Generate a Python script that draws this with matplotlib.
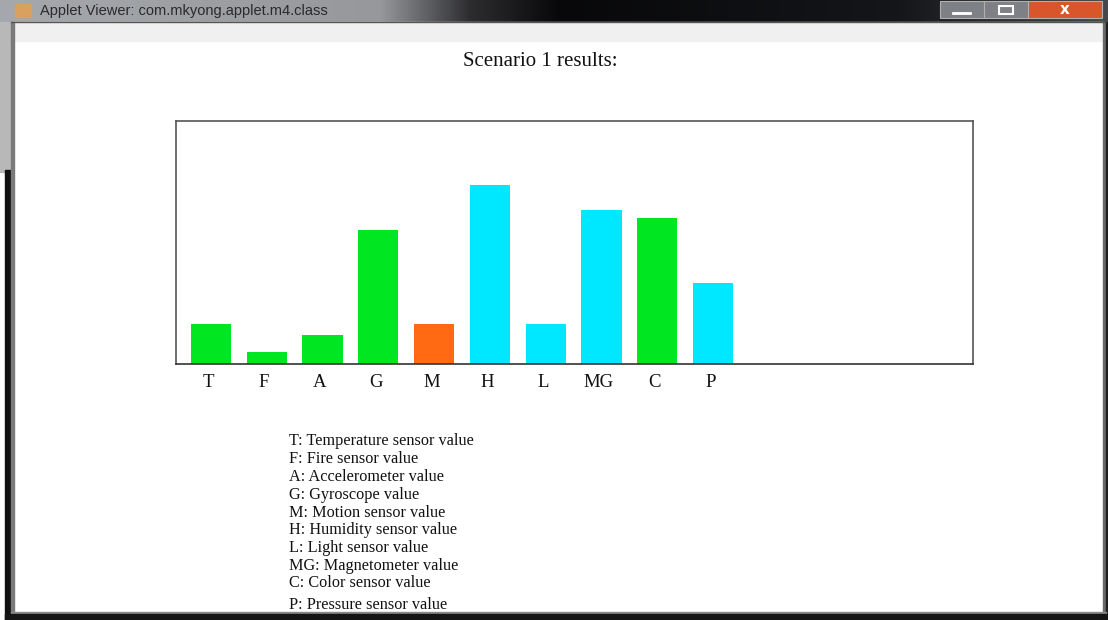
import numpy as np
import matplotlib.pyplot as plt
from matplotlib.patches import Rectangle

# sensor readings (baseline = 0, box top = 243)
labels = ["T", "F", "A", "G", "M", "H", "L", "MG", "C", "P"]
values = [40, 12, 29, 134, 40, 179, 40, 154, 146, 81]
groups = ["ok", "ok", "ok", "ok", "alert", "env", "env", "env", "ok", "env"]
legend_lines = [
    "T: Temperature sensor value",
    "F: Fire sensor value",
    "A: Accelerometer value",
    "G: Gyroscope value",
    "M: Motion sensor value",
    "H: Humidity sensor value",
    "L: Light sensor value",
    "MG: Magnetometer value",
    "C: Color sensor value",
    "P: Pressure sensor value",
]
legend_y = [441, 459, 477, 495, 513, 530, 548, 566, 583, 605]

colores = {"ok": "#00e620", "alert": "#ff6a12", "env": "#00e8ff"}
serif = ["Liberation Serif", "DejaVu Serif"]

W, H = 1108, 620
fig = plt.figure(figsize=(W / 100, H / 100), dpi=100)

# --- window chrome (pixel coordinates) ---
bg = fig.add_axes([0, 0, 1, 1])
bg.axis("off")

# title bar gradient
stops_x = [0, 380, 470, 560, 900, W]
stops_c = np.array([[165, 168, 172], [150, 152, 155], [45, 45, 48],
                    [8, 8, 10], [20, 22, 25], [70, 72, 75]]) / 255
xs = np.linspace(0, W, 400)
grad = np.stack([np.interp(xs, stops_x, stops_c[:, k]) for k in range(3)], axis=-1)
bg.imshow(grad[np.newaxis, :, :], extent=(0, W, 22, 0), aspect="auto", zorder=0)
bg.set_xlim(0, W)
bg.set_ylim(H, 0)

bg.add_patch(Rectangle((15, 4), 16, 13, color="#d9a060", zorder=1))
bg.text(40, 10.5, "Applet Viewer: com.mkyong.applet.m4.class", fontsize=10.5,
        color="#2a2a2a", va="center", ha="left", family=["Liberation Sans", "DejaVu Sans"])

# window buttons
bg.add_patch(Rectangle((940, 1), 44, 17, facecolor="#7d8084", edgecolor="#b0b0b0", lw=0.8, zorder=1))
bg.add_patch(Rectangle((984, 1), 44, 17, facecolor="#7d8084", edgecolor="#b0b0b0", lw=0.8, zorder=1))
bg.add_patch(Rectangle((1028, 1), 74, 17, facecolor="#d9562a", edgecolor="#b0b0b0", lw=0.8, zorder=1))
bg.plot([953, 970], [13, 13], color="white", lw=2, zorder=2)
bg.add_patch(Rectangle((999, 6), 14, 8, fill=False, edgecolor="white", lw=1.5, zorder=2))
bg.text(1065, 9.5, "x", fontsize=11, color="white", ha="center", va="center", weight="bold")

# menu band and borders
bg.add_patch(Rectangle((13, 22), 1090, 19, color="#f0f0f0", zorder=1))
bg.add_patch(Rectangle((0, 22), 11, 150, color="#b8b8b8", zorder=1))
bg.add_patch(Rectangle((5, 170), 7, 450, color="#101010", zorder=1))
bg.add_patch(Rectangle((11, 22), 2.5, 592, color="#7a7a7a", zorder=1))
bg.add_patch(Rectangle((1103, 22), 2.5, 592, color="#6a6a6a", zorder=1))
bg.add_patch(Rectangle((1105.5, 22), 3, 598, color="#202020", zorder=1))
bg.add_patch(Rectangle((11, 612), 1095, 2, color="#8a8a8a", zorder=1))
bg.add_patch(Rectangle((5, 614), 1103, 6, color="#151515", zorder=1))
bg.plot([11, 1105], [22, 22], color="#555555", lw=1, zorder=2)

bg.text(540, 62, "Scenario 1 results:", fontsize=15, ha="center", va="center",
        family=serif, color="#111111")

for txt, y in zip(legend_lines, legend_y):
    bg.text(289, y, txt, fontsize=11.7, ha="left", va="center", family=serif, color="#111111")

# --- bar chart ---
left, right, top, base = 176, 973, 121, 364
ax = fig.add_axes([left / W, 1 - base / H, (right - left) / W, (base - top) / H])
x = np.arange(len(labels))
ax.bar(x, values, width=0.72, color=[colores[g] for g in groups])
ax.set_xlim(-0.627, 13.66)
ax.set_ylim(0, 243)
ax.set_yticks([])
ax.set_xticks(x - 0.05)
ax.set_xticklabels(labels, fontsize=13.5, family=serif, color="#111111")
ax.tick_params(axis="x", length=0, pad=7)
for s in ax.spines.values():
    s.set_color("#555555")
    s.set_linewidth(1.2)
ax.spines["bottom"].set_color("#333333")

fig.savefig("out.png", dpi=100)
